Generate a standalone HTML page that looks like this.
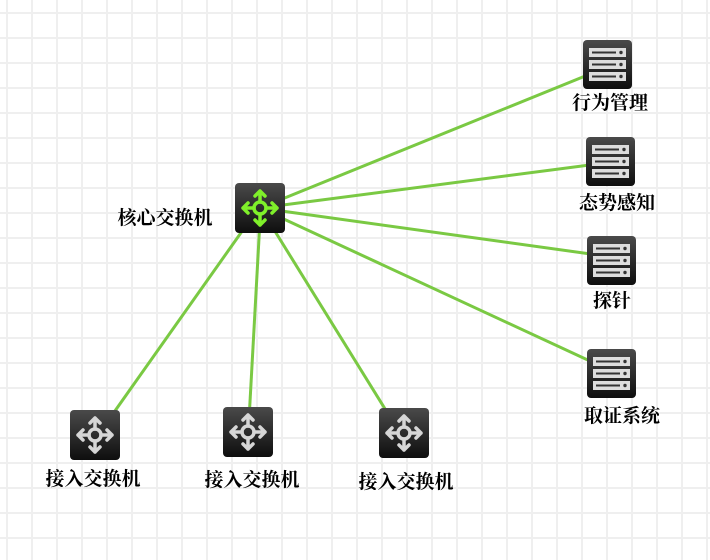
<!DOCTYPE html>
<html><head><meta charset="utf-8"><style>
html,body{margin:0;padding:0;background:#fff}
svg{display:block}
text{font-family:"Liberation Serif","Noto Serif CJK SC",serif;font-size:19px;font-weight:bold;fill:#000}
</style></head><body>
<svg width="710" height="560" xmlns="http://www.w3.org/2000/svg">
<defs>
<pattern id="g" x="7" y="13" width="25" height="25" patternUnits="userSpaceOnUse">
<rect x="-1" y="0" width="2" height="25" fill="#efefef"/><rect x="0" y="-1" width="25" height="2" fill="#efefef"/>
<rect x="24" y="0" width="2" height="25" fill="#efefef"/><rect x="0" y="24" width="25" height="2" fill="#efefef"/>
</pattern>
<linearGradient id="bg" x1="0" y1="0" x2="0" y2="1"><stop offset="0" stop-color="#4a4a4a"/><stop offset="1" stop-color="#0e0e0e"/></linearGradient>
<g id="sw">
<rect x="0" y="0" width="50" height="50" rx="4" fill="url(#bg)" stroke="none"/>
<g fill="none" stroke-width="3.5" stroke-linecap="round" stroke-linejoin="round">
<circle cx="25" cy="25" r="6"/>
<path d="M25 19V8M20 13l5-5 5 5M25 31v11M20 37l5 5 5-5M19 25H8M13 20l-5 5 5 5M31 25h11M37 20l5 5-5 5"/>
</g>
</g>
<g id="sv">
<rect x="0" y="0" width="49" height="49" rx="4" fill="url(#bg)"/>
<rect x="6" y="8" width="37" height="9" fill="#ddd"/><rect x="6" y="20" width="37" height="9" fill="#ddd"/><rect x="6" y="32" width="37" height="9" fill="#ddd"/>
<rect x="9" y="11.5" width="24" height="2" fill="#333"/><rect x="9" y="23.5" width="24" height="2" fill="#333"/><rect x="9" y="35.5" width="24" height="2" fill="#333"/>
<circle cx="38" cy="12.5" r="1.7" fill="#333"/><circle cx="38" cy="24.5" r="1.7" fill="#333"/><circle cx="38" cy="36.5" r="1.7" fill="#333"/>
</g>
</defs>
<rect width="710" height="560" fill="url(#g)"/>
<g stroke="#7ac943" stroke-width="3" fill="none">
<line x1="260" y1="208" x2="600" y2="70"/>
<line x1="260" y1="208" x2="605" y2="163"/>
<line x1="260" y1="208" x2="605" y2="256"/>
<line x1="260" y1="208" x2="605" y2="368"/>
<line x1="250" y1="220" x2="105" y2="425"/>
<line x1="260" y1="220" x2="249" y2="420"/>
<line x1="268" y1="220" x2="395" y2="425"/>
</g>
<use href="#sw" x="235" y="183" stroke="#7ff02a"/>
<use href="#sw" x="70" y="410" stroke="#d6d6d6"/>
<use href="#sw" x="223" y="407" stroke="#d6d6d6"/>
<use href="#sw" x="379" y="408" stroke="#d6d6d6"/>
<use href="#sv" x="583" y="40"/>
<use href="#sv" x="586" y="137"/>
<use href="#sv" x="587" y="236"/>
<use href="#sv" x="587" y="349"/>
<text x="165" y="224" text-anchor="middle">核心交换机</text>
<text x="610" y="109" text-anchor="middle">行为管理</text>
<text x="617" y="209" text-anchor="middle">态势感知</text>
<text x="612" y="307" text-anchor="middle">探针</text>
<text x="622" y="422" text-anchor="middle">取证系统</text>
<text x="93" y="485" text-anchor="middle">接入交换机</text>
<text x="252" y="486" text-anchor="middle">接入交换机</text>
<text x="406" y="488" text-anchor="middle">接入交换机</text>
</svg>
</body></html>
